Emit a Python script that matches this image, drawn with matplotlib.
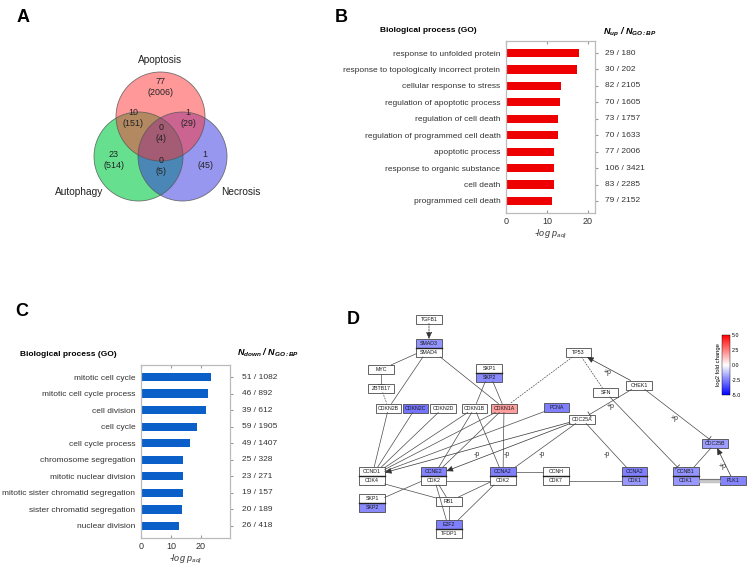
"""Multi-panel figure: Venn of cell-death genes, GO enrichment bars, cell cycle network."""

import matplotlib
matplotlib.use("Agg")
import matplotlib.pyplot as plt
import matplotlib as mpl
from matplotlib.patches import Circle, Rectangle
import numpy as np

mpl.rcParams.update({
    "font.family": ["Liberation Sans", "DejaVu Sans"],
    "mathtext.fontset": "custom",
    "mathtext.rm": "Liberation Sans",
    "mathtext.it": "Liberation Sans:italic",
    "mathtext.bf": "Liberation Sans:bold:italic",
})

# ---------------- data ----------------
venn_sets = ["Apoptosis", "Autophagy", "Necrosis"]
# regions: only A, A&Au, A&N, A&Au&N, only Au, Au&N, only N
venn_up = [77, 10, 1, 0, 23, 0, 1]
venn_all = [2006, 151, 29, 4, 514, 5, 45]

up_terms = [
    "response to unfolded protein",
    "response to topologically incorrect protein",
    "cellular response to stress",
    "regulation of apoptotic process",
    "regulation of cell death",
    "regulation of programmed cell death",
    "apoptotic process",
    "response to organic substance",
    "cell death",
    "programmed cell death",
]
up_logp = [17.8, 17.3, 13.4, 13.2, 12.8, 12.8, 11.8, 11.7, 11.7, 11.2]
up_counts = ["29 / 180", "30 / 202", "82 / 2105", "70 / 1605", "73 / 1757",
             "70 / 1633", "77 / 2006", "106 / 3421", "83 / 2285", "79 / 2152"]

down_terms = [
    "mitotic cell cycle",
    "mitotic cell cycle process",
    "cell division",
    "cell cycle",
    "cell cycle process",
    "chromosome segregation",
    "mitotic nuclear division",
    "mitotic sister chromatid segregation",
    "sister chromatid segregation",
    "nuclear division",
]
down_logp = [23.5, 22.3, 21.6, 18.6, 16.5, 14.2, 13.9, 13.9, 13.6, 12.8]
down_counts = ["51 / 1082", "46 / 892", "39 / 612", "59 / 1905", "49 / 1407",
               "25 / 328", "23 / 271", "19 / 157", "20 / 189", "26 / 418"]

# network genes with log2 fold change (others = 0)
fc_genes = ["SMAD3", "CDKN2C", "SKP2", "CDKN1A", "PCNA", "CCNE2", "CCNA2",
            "E2F2", "CCNB1", "CDK1", "PLK1", "CDC25B"]
fc_values = [-2.1, -2.7, -2.3, 1.9, -2.5, -2.4, -2.5, -2.5, -2.1, -2.0, -2.4, -1.9]

# node groups (complexes are stacked boxes)
groups = {
    "TGFB1": ["TGFB1"], "SMAD": ["SMAD3", "SMAD4"], "MYC": ["MYC"],
    "ZBTB17": ["ZBTB17"], "SKPa": ["SKP1", "SKP2"], "CDKN2B": ["CDKN2B"],
    "CDKN2C": ["CDKN2C"], "CDKN2D": ["CDKN2D"], "CDKN1B": ["CDKN1B"],
    "CDKN1A": ["CDKN1A"], "PCNA": ["PCNA"], "CDC25A": ["CDC25A"],
    "TP53": ["TP53"], "SFN": ["SFN"], "CHEK1": ["CHEK1"], "CDC25B": ["CDC25B"],
    "CCNB1": ["CCNB1", "CDK1"], "PLK1": ["PLK1"], "CCNA2r": ["CCNA2", "CDK1"],
    "CCNH": ["CCNH", "CDK7"], "CCNA2m": ["CCNA2", "CDK2"],
    "CCNE2": ["CCNE2", "CDK2"], "CCND1": ["CCND1", "CDK4"],
    "SKPb": ["SKP1", "SKP2"], "RB1": ["RB1"], "E2F2": ["E2F2", "TFDP1"],
}

edges = [
    ("TGFB1", "SMAD", "dash_arrow"), ("SMAD", "MYC", "line"),
    ("MYC", "ZBTB17", "inhibit"), ("ZBTB17", "CDKN2B", "dash"),
    ("SMAD", "CDKN2B", "line"), ("SMAD", "CDKN1A", "line"),
    ("SKPa", "CDKN1B", "line"), ("SKPa", "CDKN1A", "line"),
    ("TP53", "CDKN1A", "dash"), ("TP53", "SFN", "dash"),
    ("CHEK1", "TP53", "arrow"), ("CHEK1", "CDC25A", "inhibit"),
    ("CHEK1", "CDC25B", "inhibit"), ("SFN", "CCNB1", "inhibit"),
    ("CCNB1", "CDC25B", "line"), ("PLK1", "CDC25B", "arrow"),
    ("CCNB1/1", "PLK1", "bind"),
    ("CDKN2B", "CCND1", "line"), ("CDKN2C", "CCND1", "line"),
    ("CDKN2D", "CCND1", "line"), ("CDKN1B", "CCND1", "line"),
    ("CDKN1A", "CCND1", "line"), ("PCNA", "CCND1", "line"),
    ("CDKN1B", "CCNE2", "line"), ("CDKN1A", "CCNE2", "line"),
    ("CDKN1B", "CCNA2m", "line"), ("CDKN1A", "CCNA2m", "line"),
    ("CDC25A", "CCND1", "arrow"), ("CDC25A", "CCNE2", "arrow"),
    ("CDC25A", "CCNA2m", "line"), ("CDC25A", "CCNA2r", "line"),
    ("CCND1/1", "RB1", "line"), ("CCNE2", "RB1", "line"),
    ("CCNE2", "E2F2", "line"), ("CCNA2m", "RB1", "line"),
    ("CCNA2m", "E2F2", "line"), ("CCNE2/1", "CCNA2m/1", "line"),
    ("CCNA2m/0", "CCNH/0", "line"), ("CCNH/1", "CCNA2r/1", "line"),
    ("SKPb", "CCNE2", "line"), ("RB1", "E2F2", "line"),
]
edge_labels = ["+p", "+p", "+p", "+p", "-p", "-p", "-p", "-p"]

# ---------------- layout (figure pixels) ----------------
W, H = 750, 571
node_xy = {
    "TGFB1": (429, 319), "SMAD": (429, 348), "MYC": (381, 369.5),
    "ZBTB17": (381, 388), "SKPa": (489, 372.5), "CDKN2B": (388.5, 408),
    "CDKN2C": (415.5, 408), "CDKN2D": (443, 408), "CDKN1B": (474.5, 408),
    "CDKN1A": (504, 408), "PCNA": (556.5, 407), "CDC25A": (582, 419),
    "TP53": (578.5, 352.5), "SFN": (605.5, 392.5), "CHEK1": (639, 385),
    "CDC25B": (715, 443.5), "CCNB1": (686, 476), "PLK1": (733, 480.5),
    "CCNA2r": (634.5, 476), "CCNH": (556, 476), "CCNA2m": (503, 476),
    "CCNE2": (433.5, 476), "CCND1": (372, 476), "SKPb": (372, 503),
    "RB1": (449, 501.5), "E2F2": (449, 529),
}
label_xy = [(608, 373), (611, 407), (675, 418), (723, 467),
            (477, 454), (507, 454), (542, 454), (607, 454)]
BOX_W, BOX_H = 25.5, 9


def frac(x0, y0, x1, y1):
    return [x0 / W, 1 - y1 / H, (x1 - x0) / W, (y1 - y0) / H]


fig = plt.figure(figsize=(7.5, 5.71), dpi=100)

# panel letters
for letter, (lx, ly) in zip("ABCD", [(17, 18), (335, 18), (15, 312), (347, 319)]):
    fig.text(lx / W, 1 - ly / H, letter, fontsize=13, fontweight="bold",
             va="center", ha="left")

# ---------------- A: Venn ----------------
ax_a = fig.add_axes([0, 0, 1, 1])
ax_a.set_xlim(0, W)
ax_a.set_ylim(H, 0)
ax_a.axis("off")

centers = [(160.5, 116.5), (138.5, 156.5), (182.5, 156.5)]
fills = ["#FF3333", "#00CC44", "#3030E0"]
alphas = [0.5, 0.6, 0.5]
R = 44.5
for i in (1, 2, 0):
    ax_a.add_patch(Circle(centers[i], R, fc=fills[i], alpha=alphas[i], ec="none"))
for c in centers:
    ax_a.add_patch(Circle(c, R, fc="none", ec="#555555", lw=0.6, alpha=0.8))

set_label_xy = [(160, 60), (79, 192), (241, 192)]
for name, (x, y) in zip(venn_sets, set_label_xy):
    ax_a.text(x, y, name, ha="center", va="center", fontsize=7.3, color="#222222")

region_xy = [(160, 87), (133, 118), (188, 118), (161, 133), (114, 160), (161, 166), (205, 160)]
for n_up, n_all, (x, y) in zip(venn_up, venn_all, region_xy):
    ax_a.text(x, y, f"{n_up}\n({n_all})", ha="center", va="center",
              fontsize=6.4, color="#222222", linespacing=1.15)


# ---------------- B & C: GO bars ----------------
def go_panel(rect, terms, vals, counts, color, xmax, count_x):
    ax = fig.add_axes(frac(*rect))
    y = np.arange(len(terms))
    ax.barh(y, vals, height=0.5, color=color)
    ax.set_xlim(0, xmax)
    ax.set_ylim(len(terms) - 0.27, -0.73)
    ax.set_yticks(y, terms)
    ax.set_xticks([0, 10, 20])
    for s in ax.spines.values():
        s.set_color("#BBBBBB")
        s.set_linewidth(0.9)
    ax.tick_params(axis="y", left=False, right=True, length=2, direction="out",
                   color="#999999", labelsize=6, labelcolor="#333333", pad=2)
    ax.tick_params(axis="x", top=True, length=2, direction="in",
                   color="#999999", labelsize=6.5, labelcolor="#333333", pad=3)
    ax.set_xlabel("-log $p_{adj}$", style="italic", fontsize=6.5,
                  color="#333333", labelpad=1)
    x0, _, x1, _ = rect
    for yi, txt in zip(y, counts):
        ax.text((count_x - x0) / (x1 - x0), yi, txt, transform=ax.get_yaxis_transform(),
                ha="left", va="center", fontsize=6, color="#333333")
    return ax


go_panel((506, 41, 595, 213), up_terms, up_logp, up_counts, "#EE0000", 21.7, 605)
go_panel((141, 365, 230, 538), down_terms, down_logp, down_counts, "#0A60C8", 29.8, 242)

fig.text(428 / W, 1 - 31 / H, "Biological process (GO)", fontsize=6, fontweight="bold",
         ha="center", va="center")
fig.text(68.5 / W, 1 - 355 / H, "Biological process (GO)", fontsize=6, fontweight="bold",
         ha="center", va="center")
fig.text(603 / W, 1 - 32 / H, r"$\mathbf{N_{up}}$ / $\mathbf{N_{GO{:}BP}}$", fontsize=6.5,
         fontweight="bold", style="italic", ha="left", va="center")
fig.text(237 / W, 1 - 353 / H, r"$\mathbf{N_{down}}$ / $\mathbf{N_{GO{:}BP}}$", fontsize=6.5,
         fontweight="bold", style="italic", ha="left", va="center")

# ---------------- D: network ----------------
cmap = plt.get_cmap("bwr")
norm = mpl.colors.Normalize(-5, 5)
fc_map = dict(zip(fc_genes, fc_values))
EC = "#4A4A4A"


def node_box(key):
    name, _, row = key.partition("/")
    cx, cy = node_xy[name]
    n = len(groups[name])
    if row:
        top = cy - n * BOX_H / 2
        return cx, top + (int(row) + 0.5) * BOX_H, BOX_W / 2, BOX_H / 2
    return cx, cy, BOX_W / 2, n * BOX_H / 2


def clip(key, toward):
    cx, cy, hw, hh = node_box(key)
    dx, dy = toward[0] - cx, toward[1] - cy
    s = min(hw / abs(dx) if dx else np.inf, hh / abs(dy) if dy else np.inf)
    return cx + dx * s, cy + dy * s


for src, dst, kind in edges:
    a, b = node_box(src)[:2], node_box(dst)[:2]
    p0, p1 = clip(src, b), clip(dst, a)
    if kind == "bind":
        ax_a.plot([p0[0], p1[0]], [p0[1], p1[1]], color="#777777", lw=3, solid_capstyle="butt")
        ax_a.plot([p0[0], p1[0]], [p0[1], p1[1]], color="#CCCCCC", lw=2, solid_capstyle="butt")
        continue
    ls = (0, (2.5, 1.5)) if kind.startswith("dash") else "-"
    if kind.endswith("arrow"):
        ax_a.annotate("", xy=p1, xytext=p0,
                      arrowprops=dict(arrowstyle="-|>,head_length=0.5,head_width=0.22",
                                      color="#333333", lw=0.5, linestyle=ls,
                                      shrinkA=0, shrinkB=0, mutation_scale=8))
    else:
        ax_a.plot([p0[0], p1[0]], [p0[1], p1[1]], color=EC, lw=0.5, linestyle=ls)
    if kind == "inhibit":
        d = np.array(p1) - np.array(p0)
        d = d / np.hypot(*d)
        nrm = np.array([-d[1], d[0]]) * 3
        ax_a.plot([p1[0] - nrm[0], p1[0] + nrm[0]], [p1[1] - nrm[1], p1[1] + nrm[1]],
                  color=EC, lw=0.6)

for txt, (x, y) in zip(edge_labels, label_xy):
    ax_a.text(x, y, txt, fontsize=5, color="#333333", ha="center", va="center")

for key, genes in groups.items():
    cx, cy = node_xy[key]
    top = cy - len(genes) * BOX_H / 2
    for i, g in enumerate(genes):
        y0 = top + i * BOX_H
        ax_a.add_patch(Rectangle((cx - BOX_W / 2, y0), BOX_W, BOX_H,
                                 fc=cmap(norm(fc_map.get(g, 0))), ec=EC, lw=0.6))
        ax_a.text(cx, y0 + BOX_H / 2 + 0.3, g, ha="center", va="center",
                  fontsize=3.8, color="#1A1A1A")
    if len(genes) == 2:
        ax_a.plot([cx - BOX_W / 2, cx + BOX_W / 2], [top + BOX_H] * 2, color="#222222", lw=1.0)

cax = fig.add_axes(frac(722, 335, 730, 395))
cb = fig.colorbar(mpl.cm.ScalarMappable(norm=norm, cmap=cmap), cax=cax)
cb.set_ticks([-5, -2.5, 0, 2.5, 5], labels=["-5.0", "-2.5", "0.0", "2.5", "5.0"])
cb.ax.tick_params(labelsize=3.8, length=0, pad=1)
cb.outline.set_linewidth(0.3)
cb.set_label("log2 fold change", fontsize=4.2, labelpad=1)
cb.ax.yaxis.set_label_position("left")

fig.savefig("out.png", dpi=100)
print("Done.")
